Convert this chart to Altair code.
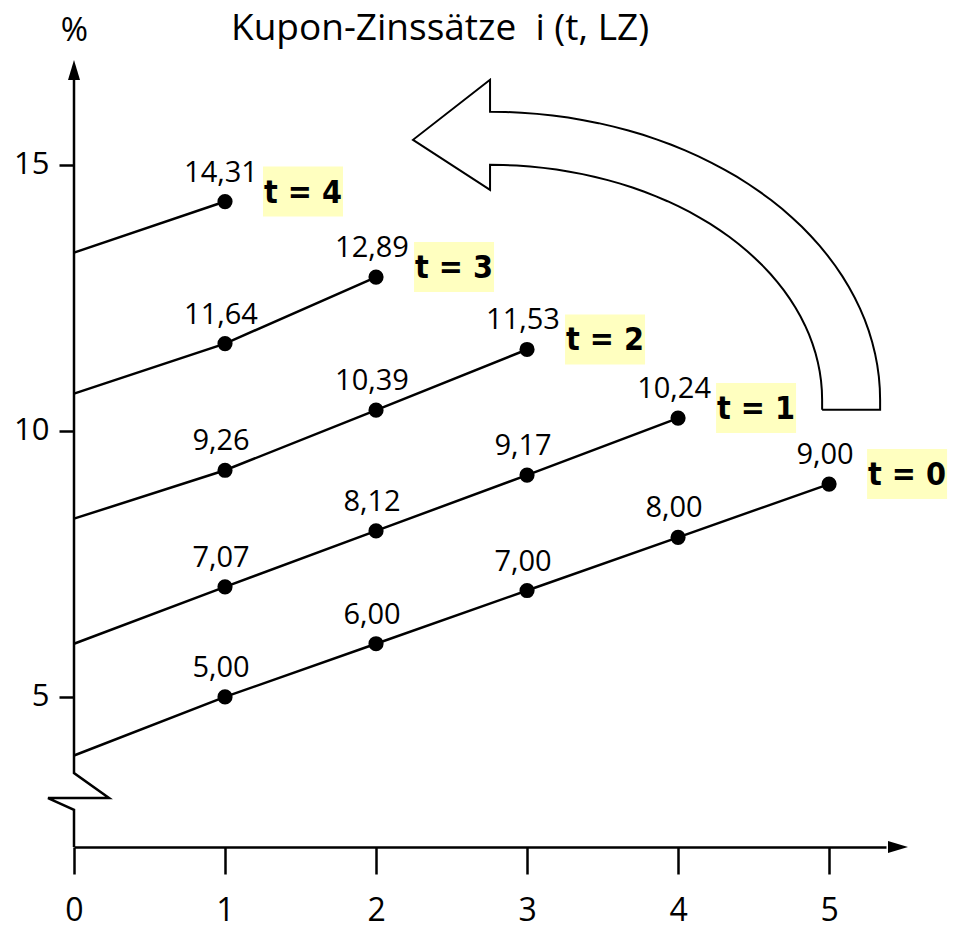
import altair as alt
import numpy as np
import pandas as pd

# Coupon rates i(t, LZ) for each point in time t over the remaining maturity LZ
t_list = [0, 1, 2, 3, 4]
rates_t0 = [5.00, 6.00, 7.00, 8.00, 9.00]
rates_t1 = [7.07, 8.12, 9.17, 10.24]
rates_t2 = [9.26, 10.39, 11.53]
rates_t3 = [11.64, 12.89]
rates_t4 = [14.31]
# level where each curve meets the vertical axis (LZ = 0)
axis_start = [3.9, 6.0, 8.35, 10.7, 13.35]

x_tick_values = [0, 1, 2, 3, 4, 5]
y_tick_values = [5, 10, 15]

title_text = "Kupon-Zinssätze\u00a0 i (t, LZ)"
y_unit = "%"

FONT = "Open Sans"
BOLD_FONT = "'DejaVu Sans Condensed', 'DejaVu Sans'"
HIGHLIGHT = "#FFFFC0"

# plot area and scale domains
W, H = 812, 787
X_DOMAIN = [0, 5.377]
Y_DOMAIN = [2.18, 16.97]

series = [rates_t0, rates_t1, rates_t2, rates_t3, rates_t4]

point_rows, line_rows, last_rows = [], [], []
for t, vals, start in zip(t_list, series, axis_start):
    line_rows.append({"t": t, "lz": 0, "rate": start})
    for lz, v in enumerate(vals, start=1):
        row = {"t": t, "lz": lz, "rate": v, "label": f"{v:.2f}".replace(".", ",")}
        point_rows.append(row)
        line_rows.append({"t": t, "lz": lz, "rate": v})
    last_rows.append({"t": t, "lz": len(vals), "rate": vals[-1], "tlabel": f"t = {t}"})

points = pd.DataFrame(point_rows)
lines = pd.DataFrame(line_rows)
last = pd.DataFrame(last_rows)

x_axis = alt.Axis(
    values=x_tick_values, title=None, grid=False, format="d",
    domainColor="black", domainWidth=2.5,
    tickColor="black", tickWidth=2.5, tickSize=27,
    labelFont=FONT, labelFontSize=32, labelColor="black",
    labelPadding=21, labelFlush=False, labelOverlap=False,
)
y_axis = alt.Axis(
    values=y_tick_values, title=y_unit, grid=False, domain=False, format="d",
    titleAngle=0, titleX=0, titleY=-20, titleAlign="center",
    titleBaseline="alphabetic", titleFont=FONT, titleFontSize=33,
    titleFontWeight="normal", titleColor="black",
    tickColor="black", tickWidth=2.5, tickSize=15,
    labelFont=FONT, labelFontSize=31, labelColor="black",
    labelPadding=10, labelOverlap=False,
)
x_scale = alt.Scale(domain=X_DOMAIN, nice=False, zero=False)
y_scale = alt.Scale(domain=Y_DOMAIN, nice=False, zero=False)


def X(field="lz"):
    return alt.X(f"{field}:Q", scale=x_scale, axis=x_axis)


def Y(field="rate"):
    return alt.Y(f"{field}:Q", scale=y_scale, axis=y_axis)


# vertical axis with a break (zigzag) just above the horizontal axis
y_min, y_max = Y_DOMAIN
brk_top, brk_mid, brk_bot = 3.57, 3.10, 2.88
brk_right, brk_left = 0.232, -0.172
y_axis_path = pd.DataFrame({
    "x": [0, 0, brk_right, brk_left, 0, 0],
    "y": [y_max - 0.3, brk_top, brk_mid, brk_mid, brk_bot, y_min],
    "i": list(range(6)),
})
y_axis_line = alt.Chart(y_axis_path).mark_line(color="black", strokeWidth=2.5).encode(
    x=X("x"), y=Y("y"), order="i:Q"
)

# arrow heads at the ends of both axes
up_head = alt.Chart(pd.DataFrame({"x": [0], "y": [y_max]})).mark_point(
    shape="M0,-1L-0.6,1L0.6,1Z", size=400, filled=True, color="black", opacity=1, yOffset=10
).encode(x=X("x"), y=Y("y"))
right_head = alt.Chart(pd.DataFrame({"x": [X_DOMAIN[1]], "y": [y_min]})).mark_point(
    shape="M1,0L-1,-0.6L-1,0.6Z", size=400, filled=True, color="black", opacity=1, xOffset=12
).encode(x=X("x"), y=Y("y"))


# big hollow curved arrow pointing from t = 0 back towards t = 4
def curved_arrow():
    cx, cy, base = 2.755, 10.583, 10.395
    rxo, ryo = 2.583, 5.414
    rxi, ryi = 2.199, 4.417
    tip_x, tip_y = 2.245, 15.47
    head_top, head_bot = 16.60, 14.53
    ang = np.linspace(0, np.pi / 2, 40)
    pts = [(cx + rxi, base), (cx + rxo, base)]
    pts += list(zip(cx + rxo * np.cos(ang), cy + ryo * np.sin(ang)))
    pts += [(cx, head_top), (tip_x, tip_y), (cx, head_bot)]
    pts += list(zip(cx + rxi * np.cos(ang[::-1]), cy + ryi * np.sin(ang[::-1])))
    pts += [(cx + rxi, base)]
    return pd.DataFrame({"x": [p[0] for p in pts], "y": [p[1] for p in pts],
                         "i": list(range(len(pts)))})


arrow = alt.Chart(curved_arrow()).mark_line(color="black", strokeWidth=2).encode(
    x=X("x"), y=Y("y"), order="i:Q"
)

curves = alt.Chart(lines).mark_line(color="black", strokeWidth=2.5).encode(
    x=X(), y=Y(), detail="t:N", order="lz:Q"
)
dots = alt.Chart(points).mark_circle(size=230, color="black", opacity=1).encode(x=X(), y=Y())
values = alt.Chart(points).mark_text(
    font=FONT, fontSize=29, color="black", dx=-4, dy=-20, baseline="alphabetic"
).encode(x=X(), y=Y(), text="label:N")

boxes = alt.Chart(last).mark_rect(
    color=HIGHLIGHT, xOffset=38, x2Offset=118, yOffset=-35, y2Offset=15
).encode(x=X(), x2=alt.X2("lz:Q"), y=Y(), y2=alt.Y2("rate:Q"))
t_labels = alt.Chart(last).mark_text(
    font=BOLD_FONT, fontWeight="bold", fontSize=32, color="black",
    align="left", baseline="middle", dx=39, dy=-9
).encode(x=X(), y=Y(), text="tlabel:N")

# heading above the plot area, next to the "%" unit
heading = alt.Chart(pd.DataFrame({"text": [title_text]})).mark_text(
    font=FONT, fontSize=37, color="black", align="left", baseline="alphabetic"
).encode(x=alt.value(157), y=alt.value(-20), text="text:N")

chart = alt.layer(
    boxes, arrow, curves, dots, values, t_labels, y_axis_line, up_head, right_head, heading
).properties(
    width=W,
    height=H,
    padding={"left": 74, "top": 60, "right": 67, "bottom": 82},
    autosize=alt.AutoSizeParams(type="none"),
).configure_view(stroke=None)

chart.save("out.html", embed_options={"renderer": "svg", "actions": False})
